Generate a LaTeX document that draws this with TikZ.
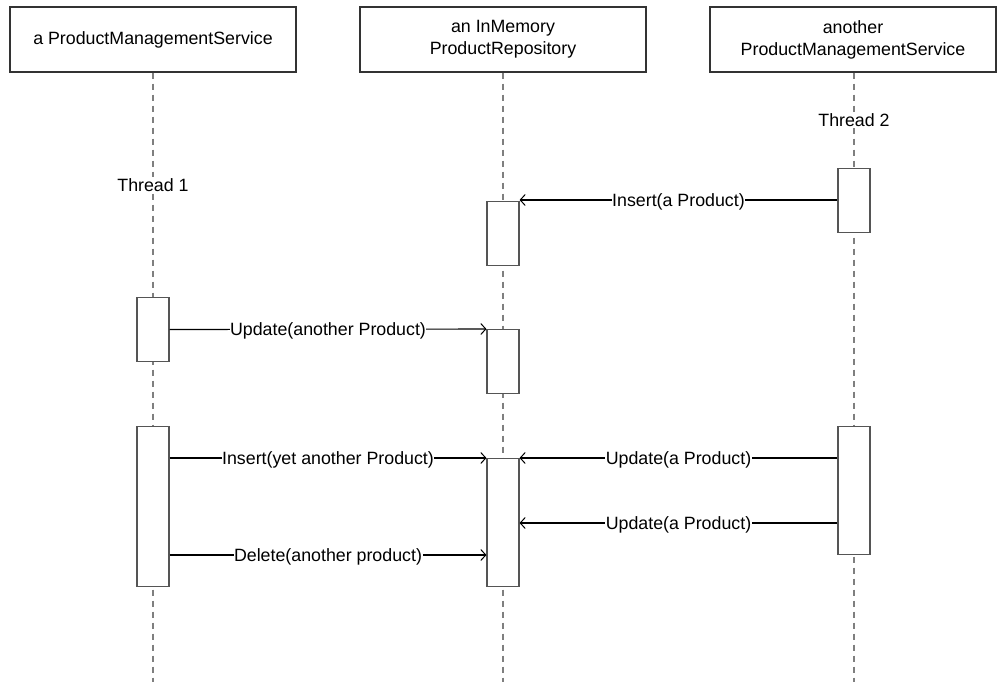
\documentclass[tikz,border=0pt]{standalone}
\usepackage{fontspec}
\setmainfont{Liberation Sans}
\usetikzlibrary{arrows.meta}
\definecolor{boxline}{HTML}{333333}
\definecolor{actline}{HTML}{555555}
\definecolor{lifeline}{HTML}{7F7F7F}
\begin{document}
\begin{tikzpicture}[x=1pt,y=-1pt,
  objbox/.style={draw=boxline,line width=1.1pt,fill=white,minimum width=286pt,minimum height=65pt,
    inner sep=0pt,align=center,font=\fontsize{17.8}{21.8}\selectfont},
  actbox/.style={draw=actline,line width=1.1pt,fill=white,minimum width=32pt,inner sep=0pt,anchor=north},
  life/.style={draw=lifeline,line width=1.1pt,dash pattern=on 6pt off 5pt},
  msg/.style={draw=black,line width=1.1pt,-{Straight Barb[length=5pt,width=11pt,line width=1pt]}},
  lbl/.style={fill=white,inner sep=0.5pt,yshift=-1.5pt,font=\fontsize{17.8}{20}\selectfont},
  thr/.style={fill=white,inner sep=1pt,font=\fontsize{17.8}{20}\selectfont}]
\useasboundingbox (0,0) rectangle (997,682);
\fill[white] (0,0) rectangle (997,682);

% objects
\node[objbox] (o1) at (153,39.5) {a ProductManagementService};
\node[objbox] (o2) at (503,39.5) {an InMemory\\ProductRepository};
\node[objbox] (o3) at (853,39.5) {another\\ProductManagementService};

% lifeline ends
\coordinate (e1) at (153,682);
\coordinate (e2) at (503,682);
\coordinate (e3) at (854,682);
\draw[life] (o1.south) -- (e1);
\draw[life] (o2.south) -- (e2);
\draw[life] (o3.south -| e3) -- (e3);

% thread labels
\node[thr] (th1) at (153,185) {Thread 1};
\node[thr] (th2) at (854,120) {Thread 2};

% activations
\node[actbox,minimum height=64pt] (t3a) at (854,168) {};
\node[actbox,minimum height=64pt] (r1) at (503,201) {};
\node[actbox,minimum height=64pt] (s1a) at (153,297) {};
\node[actbox,minimum height=64pt] (r2) at (503,329) {};
\node[actbox,minimum height=160pt] (s1b) at (153,426) {};
\node[actbox,minimum height=128pt] (r3) at (503,458) {};
\node[actbox,minimum height=128pt] (t3b) at (854,426) {};

\coordinate (ydel) at (0,555);
\coordinate (yupd) at (0,523);

% messages
\draw[msg] (t3a.west |- 0,200) -- node[lbl] {Insert(a Product)} (r1.east |- 0,200);
\draw[msg] (s1a.east) -- node[lbl] {Update(another Product)} (r2.north west);
\draw[msg] (s1b.east |- r3.north) -- node[lbl] {Insert(yet another Product)} (r3.north west);
\draw[msg] (s1b.east |- ydel) -- node[lbl] {Delete(another product)} (r3.west |- ydel);
\draw[msg] (t3b.west |- r3.north) -- node[lbl] {Update(a Product)} (r3.north east);
\draw[msg] (t3b.west |- yupd) -- node[lbl] {Update(a Product)} (r3.east |- yupd);
\end{tikzpicture}
\end{document}
